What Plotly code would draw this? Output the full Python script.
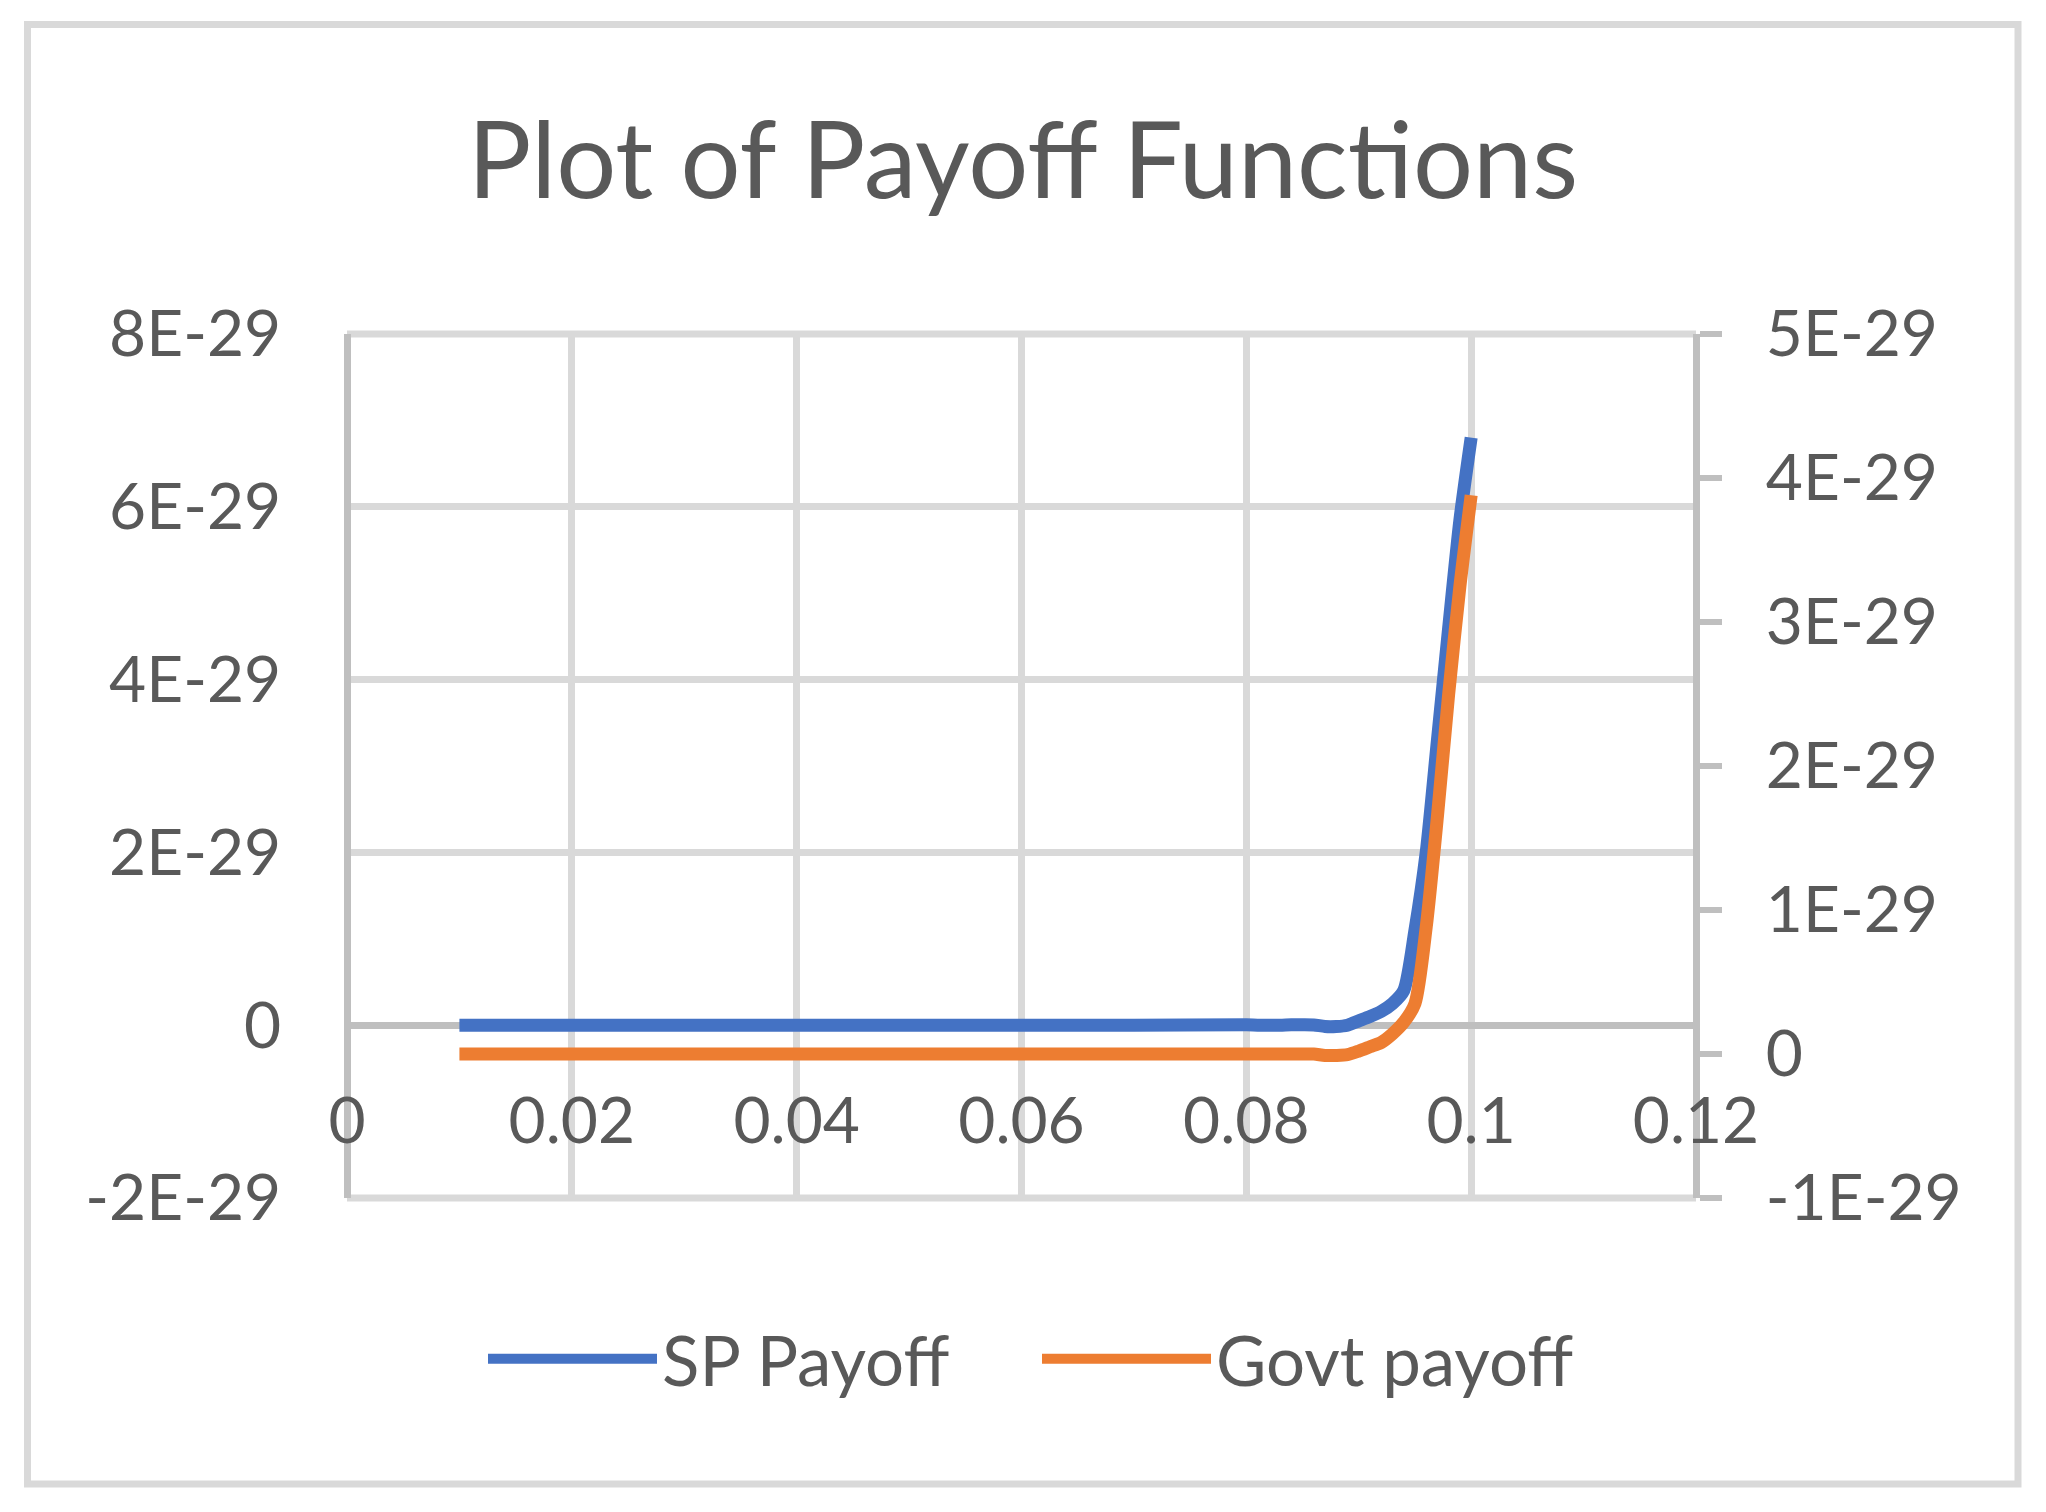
import plotly.graph_objects as go

# x values (interest rate)
x_vals = [0.01, 0.02, 0.03, 0.04, 0.05, 0.06, 0.07, 0.08,
          0.081, 0.082, 0.083, 0.084, 0.085, 0.086, 0.087, 0.088, 0.089,
          0.09, 0.091, 0.092, 0.093, 0.094, 0.095, 0.096, 0.097, 0.098, 0.099, 0.1]

# payoffs (units of 1E-29)
sp_payoff = [0, 0, 0, 0, 0, 0, 0, 0.005,
             0, 0, 0, 0.005, 0.005, 0.003, -0.015, -0.015, 0.0,
             0.05, 0.1, 0.16, 0.25, 0.4, 1.1, 2.0, 3.3, 4.6, 5.85, 6.8]
govt_payoff = [0, 0, 0, 0, 0, 0, 0, 0,
               0, 0, 0, 0, 0, 0, -0.01, -0.01, -0.005,
               0.02, 0.05, 0.08, 0.14, 0.22, 0.35, 0.88, 1.65, 2.5, 3.25, 3.88]

scale = 1e-29
sp_y = [v * scale for v in sp_payoff]
govt_y = [v * scale for v in govt_payoff]

y1_ticks = [-2e-29, 0, 2e-29, 4e-29, 6e-29, 8e-29]
y1_labels = ['-2E-29', '0', '2E-29', '4E-29', '6E-29', '8E-29']
y2_ticks = [-1e-29, 0, 1e-29, 2e-29, 3e-29, 4e-29, 5e-29]
y2_labels = ['-1E-29', '0', '1E-29', '2E-29', '3E-29', '4E-29', '5E-29']

W, H = 2046, 1512
OFF = 8  # the html page body has an 8px margin
FONT = 'Lato'
TXT = '#595959'
GRID = '#D9D9D9'
AXIS = '#BFBFBF'


def fx(px):
    return (px - OFF) / W


def fy(py):
    return 1 - (py - OFF) / H


# plot area in page pixels
xdom = [fx(347), fx(1696)]
ydom = [fy(1198), fy(334)]
x_axis_pos = ydom[0] + 0.2 * (ydom[1] - ydom[0])  # where y=0 sits on the left axis


def hline(y):
    # frame line of the plot area (Excel keeps the edge gridlines)
    return dict(type='line', xref='paper', yref='paper', x0=xdom[0], x1=xdom[1], y0=y, y1=y,
                line=dict(color=GRID, width=7), layer='below')


fig = go.Figure()
fig.add_trace(go.Scatter(x=x_vals, y=sp_y, name='SP Payoff', mode='lines',
                         line=dict(color='#4472C4', width=13, shape='spline', smoothing=0.7),
                         yaxis='y'))
fig.add_trace(go.Scatter(x=x_vals, y=govt_y, name='Govt payoff', mode='lines',
                         line=dict(color='#ED7D31', width=13, shape='spline', smoothing=0.7),
                         yaxis='y2'))

fig.update_layout(
    width=W, height=H,
    margin=dict(l=0, r=0, t=0, b=0, autoexpand=False),
    paper_bgcolor='white', plot_bgcolor='white',
    font=dict(family=FONT, color=TXT, size=64),
    title=dict(text='Plot of Payoff Functions', x=fx(1023), y=fy(161),
               xanchor='center', yanchor='middle', automargin=False,
               font=dict(family=FONT, size=106, color=TXT)),
    xaxis=dict(domain=xdom, range=[0, 0.12], dtick=0.02, tick0=0,
               anchor='free', position=x_axis_pos, automargin=False,
               showgrid=True, gridcolor=GRID, gridwidth=7,
               showline=False, zeroline=False, ticks='', ticklabelstandoff=53,
               tickfont=dict(size=64, color=TXT)),
    yaxis=dict(domain=ydom, range=[-2e-29, 8e-29],
               tickvals=y1_ticks, ticktext=y1_labels,
               anchor='free', position=xdom[0], automargin=False,
               showgrid=True, gridcolor=GRID, gridwidth=7,
               showline=True, linecolor=AXIS, linewidth=7,
               zeroline=True, zerolinecolor=AXIS, zerolinewidth=7,
               ticks='', ticklabelstandoff=50,
               tickfont=dict(size=64, color=TXT)),
    yaxis2=dict(domain=ydom, range=[-1e-29, 5e-29], overlaying='y', side='right',
                tickvals=y2_ticks, ticktext=y2_labels,
                anchor='free', position=xdom[1], automargin=False,
                showgrid=False, zeroline=False,
                showline=True, linecolor=AXIS, linewidth=7,
                ticks='outside', ticklen=22, tickwidth=6, tickcolor=AXIS,
                ticklabelstandoff=31,
                tickfont=dict(size=64, color=TXT)),
    showlegend=True,
    legend=dict(orientation='h', x=fx(483), y=fy(1359),
                xanchor='left', yanchor='middle',
                font=dict(family=FONT, size=69, color=TXT),
                itemwidth=169, entrywidth=370, bgcolor='rgba(0,0,0,0)'),
    shapes=[dict(type='rect', xref='paper', yref='paper',
                 x0=fx(27.5), x1=fx(2018), y0=fy(1484), y1=fy(24.5),
                 line=dict(color=GRID, width=7), fillcolor='rgba(0,0,0,0)',
                 layer='below'),
            hline(ydom[0]), hline(ydom[1])],
)

fig.write_html('out.html')
